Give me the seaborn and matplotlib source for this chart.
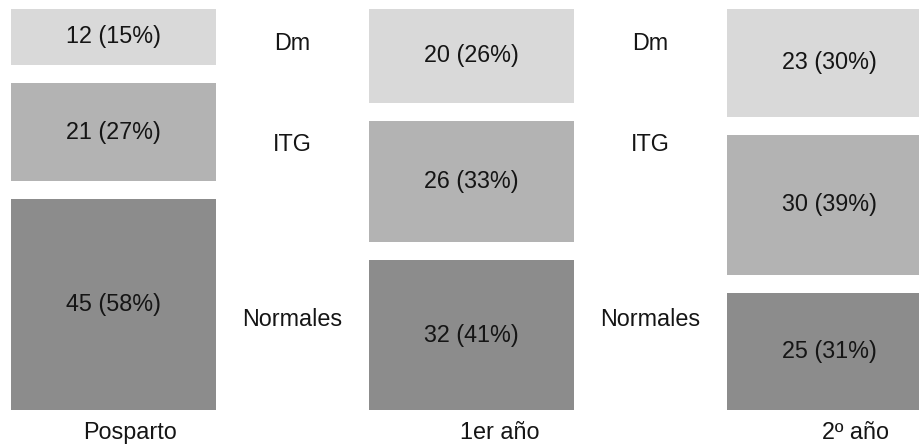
import numpy as np
import pandas as pd
import matplotlib
matplotlib.use("Agg")
import matplotlib.pyplot as plt
import seaborn as sns

# Periods of follow-up and glucose-tolerance groups
periodos = ["Posparto", "1er año", "2º año"]
grupos = ["Normales", "ITG", "Dm"]          # drawn bottom to top

# Number of women per group in each period
normales = [45, 32, 25]
itg = [21, 26, 30]
dm = [12, 20, 23]

# Percentages as printed on each block
pct_normales = [58, 41, 31]
pct_itg = [27, 33, 39]
pct_dm = [15, 26, 30]

colores = {"Normales": "#8c8c8c", "ITG": "#b3b3b3", "Dm": "#d9d9d9"}

valores = {"Normales": normales, "ITG": itg, "Dm": dm}
porcentajes = {"Normales": pct_normales, "ITG": pct_itg, "Dm": pct_dm}

HUECO = 3.85       # white space between stacked blocks (data units)
ANCHO = 0.573      # bar width in category units

sns.set_style("white")
plt.rcParams["font.family"] = ["Liberation Sans", "DejaVu Sans"]
TXT = "#151515"
FS = 16.8

# Long table with the base of every block
filas = []
base = np.zeros(len(periodos))
for g in grupos:
    v = np.array(valores[g], dtype=float)
    for i, p in enumerate(periodos):
        filas.append({"periodo": p, "grupo": g, "n": v[i], "base": base[i],
                      "pct": porcentajes[g][i]})
    base = base + v + HUECO
df = pd.DataFrame(filas)

fig = plt.figure(figsize=(9.2, 4.48), dpi=100)
ax = fig.add_axes([0, 0, 1, 1])

for g in grupos:
    sub = df[df["grupo"] == g].set_index("periodo").loc[periodos].reset_index()
    sns.barplot(data=sub, x="periodo", y="n", order=periodos, color=colores[g],
                saturation=1, width=ANCHO, errorbar=None, ax=ax,
                bottom=sub["base"].to_numpy(), linewidth=0)
    for i, fila in sub.iterrows():
        ax.text(i, fila["base"] + fila["n"] / 2,
                f"{int(fila['n'])} ({fila['pct']}%)",
                ha="center", va="center", fontsize=FS, color=TXT)

# Group names between the columns
etiquetas_y = {"Dm": 78.3, "ITG": 56.8, "Normales": 19.3}
for xm in (0.5, 1.5):
    for g, yv in etiquetas_y.items():
        ax.text(xm, yv, g, ha="center", va="center", fontsize=FS, color=TXT)

# Period names under each column, set slightly right of the bar centre
desplaz = [0.047, 0.08, 0.073]
for i, p in enumerate(periodos):
    ax.text(i + desplaz[i], -4.7, p, ha="center", va="center",
            fontsize=FS, color=TXT)

ax.set_xlim(-0.316, 2.254)
ax.set_ylim(-8.1, 87.6)
ax.axis("off")

fig.savefig("out.png", dpi=100, facecolor="white")
